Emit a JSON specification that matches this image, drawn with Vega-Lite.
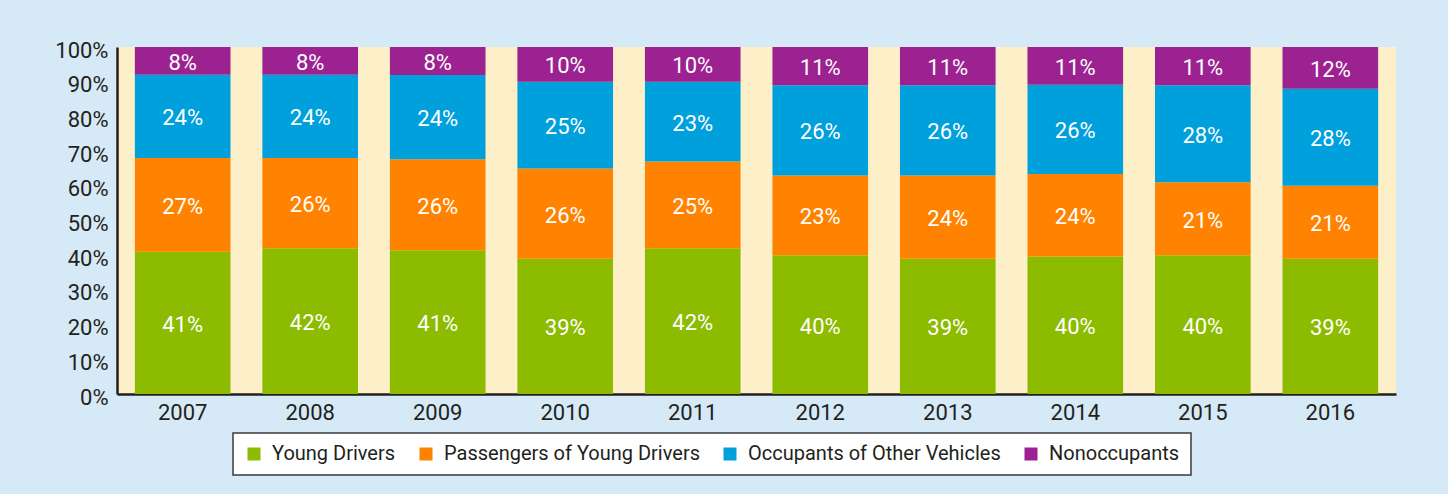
{
  "$schema": "https://vega.github.io/schema/vega-lite/v6.json",
  "width": 1279,
  "height": 347,
  "autosize": {"type": "none"},
  "padding": {"left": 117, "top": 47, "right": 52, "bottom": 100},
  "background": "#d6e9f6",
  "config": {
    "font": "Roboto, sans-serif",
    "view": {"fill": "#fdefc8", "stroke": null},
    "axisY": {"labelOverlap": false, "labelBound": false},
    "legend": {
      "orient": "none",
      "legendX": 116,
      "legendY": 386,
      "direction": "horizontal",
      "fillColor": "#ffffff",
      "strokeColor": "#3a3a3a",
      "strokeWidth": 1.5,
      "padding": 11,
      "symbolType": "square",
      "symbolSize": 169,
      "symbolStrokeWidth": 0,
      "symbolOpacity": 1,
      "labelFont": "Roboto",
      "labelFontSize": 20,
      "labelColor": "#231f20",
      "labelLimit": 400,
      "columnPadding": 20,
      "labelOffset": 8
    }
  },
  "data": {
    "values": [
      {"year": "2007", "category": "Young Drivers", "order": 1, "pct": 41, "label": "41%"},
      {"year": "2007", "category": "Passengers of Young Drivers", "order": 2, "pct": 27, "label": "27%"},
      {"year": "2007", "category": "Occupants of Other Vehicles", "order": 3, "pct": 24, "label": "24%"},
      {"year": "2007", "category": "Nonoccupants", "order": 4, "pct": 8, "label": "8%"},
      {"year": "2008", "category": "Young Drivers", "order": 1, "pct": 42, "label": "42%"},
      {"year": "2008", "category": "Passengers of Young Drivers", "order": 2, "pct": 26, "label": "26%"},
      {"year": "2008", "category": "Occupants of Other Vehicles", "order": 3, "pct": 24, "label": "24%"},
      {"year": "2008", "category": "Nonoccupants", "order": 4, "pct": 8, "label": "8%"},
      {"year": "2009", "category": "Young Drivers", "order": 1, "pct": 41, "label": "41%"},
      {"year": "2009", "category": "Passengers of Young Drivers", "order": 2, "pct": 26, "label": "26%"},
      {"year": "2009", "category": "Occupants of Other Vehicles", "order": 3, "pct": 24, "label": "24%"},
      {"year": "2009", "category": "Nonoccupants", "order": 4, "pct": 8, "label": "8%"},
      {"year": "2010", "category": "Young Drivers", "order": 1, "pct": 39, "label": "39%"},
      {"year": "2010", "category": "Passengers of Young Drivers", "order": 2, "pct": 26, "label": "26%"},
      {"year": "2010", "category": "Occupants of Other Vehicles", "order": 3, "pct": 25, "label": "25%"},
      {"year": "2010", "category": "Nonoccupants", "order": 4, "pct": 10, "label": "10%"},
      {"year": "2011", "category": "Young Drivers", "order": 1, "pct": 42, "label": "42%"},
      {"year": "2011", "category": "Passengers of Young Drivers", "order": 2, "pct": 25, "label": "25%"},
      {"year": "2011", "category": "Occupants of Other Vehicles", "order": 3, "pct": 23, "label": "23%"},
      {"year": "2011", "category": "Nonoccupants", "order": 4, "pct": 10, "label": "10%"},
      {"year": "2012", "category": "Young Drivers", "order": 1, "pct": 40, "label": "40%"},
      {"year": "2012", "category": "Passengers of Young Drivers", "order": 2, "pct": 23, "label": "23%"},
      {"year": "2012", "category": "Occupants of Other Vehicles", "order": 3, "pct": 26, "label": "26%"},
      {"year": "2012", "category": "Nonoccupants", "order": 4, "pct": 11, "label": "11%"},
      {"year": "2013", "category": "Young Drivers", "order": 1, "pct": 39, "label": "39%"},
      {"year": "2013", "category": "Passengers of Young Drivers", "order": 2, "pct": 24, "label": "24%"},
      {"year": "2013", "category": "Occupants of Other Vehicles", "order": 3, "pct": 26, "label": "26%"},
      {"year": "2013", "category": "Nonoccupants", "order": 4, "pct": 11, "label": "11%"},
      {"year": "2014", "category": "Young Drivers", "order": 1, "pct": 40, "label": "40%"},
      {"year": "2014", "category": "Passengers of Young Drivers", "order": 2, "pct": 24, "label": "24%"},
      {"year": "2014", "category": "Occupants of Other Vehicles", "order": 3, "pct": 26, "label": "26%"},
      {"year": "2014", "category": "Nonoccupants", "order": 4, "pct": 11, "label": "11%"},
      {"year": "2015", "category": "Young Drivers", "order": 1, "pct": 40, "label": "40%"},
      {"year": "2015", "category": "Passengers of Young Drivers", "order": 2, "pct": 21, "label": "21%"},
      {"year": "2015", "category": "Occupants of Other Vehicles", "order": 3, "pct": 28, "label": "28%"},
      {"year": "2015", "category": "Nonoccupants", "order": 4, "pct": 11, "label": "11%"},
      {"year": "2016", "category": "Young Drivers", "order": 1, "pct": 39, "label": "39%"},
      {"year": "2016", "category": "Passengers of Young Drivers", "order": 2, "pct": 21, "label": "21%"},
      {"year": "2016", "category": "Occupants of Other Vehicles", "order": 3, "pct": 28, "label": "28%"},
      {"year": "2016", "category": "Nonoccupants", "order": 4, "pct": 12, "label": "12%"}
    ]
  },
  "transform": [
    {"stack": "pct", "groupby": ["year"], "offset": "normalize", "sort": [{"field": "order", "order": "ascending"}], "as": ["y0", "y1"]}
  ],
  "encoding": {
    "x": {
      "field": "year",
      "type": "ordinal",
      "scale": {"paddingInner": 0.25, "paddingOuter": 0.14},
      "axis": {
        "title": null,
        "labelAngle": 0,
        "labelFont": "Roboto",
        "labelFontSize": 22,
        "labelColor": "#231f20",
        "labelPadding": 8,
        "ticks": false,
        "domain": true,
        "domainColor": "#231f20",
        "domainWidth": 2.5
      }
    }
  },
  "layer": [
    {
      "mark": {"type": "bar"},
      "encoding": {
        "y": {
          "field": "y0",
          "type": "quantitative",
          "scale": {"domain": [0, 1], "nice": false},
          "axis": {
            "title": null,
            "values": [0, 0.1, 0.2, 0.3, 0.4, 0.5, 0.6, 0.7, 0.8, 0.9, 1],
            "format": ".0%",
            "labelFont": "Roboto",
            "labelFontSize": 22,
            "labelColor": "#231f20",
            "labelPadding": 9,
            "labelOffset": 3,
            "labelOverlap": false,
            "labelBound": false,
            "ticks": false,
            "grid": false,
            "domain": true,
            "domainColor": "#231f20",
            "domainWidth": 2.5
          }
        },
        "y2": {"field": "y1"},
        "color": {
          "field": "category",
          "type": "nominal",
          "title": null,
          "scale": {
            "domain": ["Young Drivers", "Passengers of Young Drivers", "Occupants of Other Vehicles", "Nonoccupants"],
            "range": ["#8cbb00", "#ff8300", "#00a0dd", "#9b2290"]
          }
        }
      }
    },
    {
      "transform": [{"fold": ["y0", "y1"], "as": ["k", "v"]}],
      "mark": {"type": "text", "color": "#ffffff", "font": "Roboto", "fontSize": 22, "baseline": "middle", "dy": 2},
      "encoding": {
        "y": {
          "aggregate": "mean",
          "field": "v",
          "type": "quantitative",
          "axis": {
            "title": null,
            "values": [0, 0.1, 0.2, 0.3, 0.4, 0.5, 0.6, 0.7, 0.8, 0.9, 1],
            "format": ".0%",
            "labelFont": "Roboto",
            "labelFontSize": 22,
            "labelColor": "#231f20",
            "labelPadding": 9,
            "labelOffset": 3,
            "labelOverlap": false,
            "labelBound": false,
            "ticks": false,
            "grid": false,
            "domain": true,
            "domainColor": "#231f20",
            "domainWidth": 2.5
          }
        },
        "text": {"field": "label", "type": "nominal"},
        "detail": {"field": "category", "type": "nominal"}
      }
    }
  ]
}
